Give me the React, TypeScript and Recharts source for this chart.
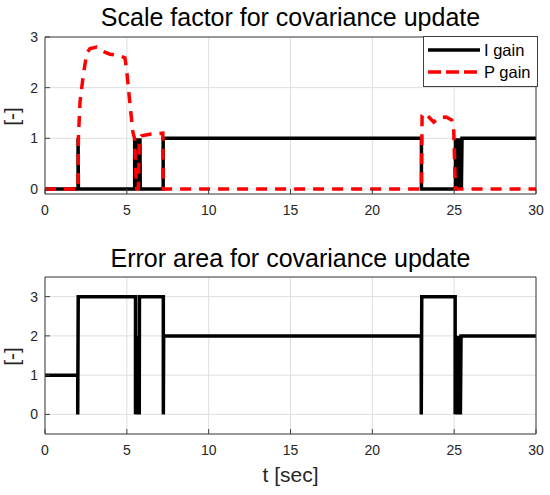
import { LineChart, Line, XAxis, YAxis, CartesianGrid, Legend } from 'recharts';

const FONT = '"Liberation Sans", Arial, Helvetica, sans-serif';
const AXIS = '#404040';
const GRID = '#dedede';

const X_TICKS = [0, 5, 10, 15, 20, 25, 30];
const Y_TICKS = [0, 1, 2, 3];

// top panel: I gain (chatter near 5.5 s and 25.2 s)
const iGainT = [0, 2.02, 2.02, 2.04, 5.48, 5.48, 5.52, 5.56, 5.6, 5.64, 5.68, 5.72, 5.76, 5.8, 5.82, 7.22, 7.22, 23.0, 23.0, 25.08, 25.08, 25.12, 25.16, 25.2, 25.24, 25.28, 25.32, 25.36, 25.4, 25.44, 25.48, 30];
const iGainV = [0, 0, 1, 0, 0, 1, 0, 1, 0, 1, 0, 1, 0, 1, 0, 0, 1, 1, 0, 0, 1, 0, 1, 0, 1, 0, 1, 0, 1, 0, 1, 1];

// top panel: P gain
const pGainT = [0, 2.02, 2.04, 2.14, 2.34, 2.55, 2.75, 3.16, 3.57, 3.97, 4.58, 4.88, 4.97, 5.07, 5.17, 5.27, 5.37, 5.47, 5.55, 5.6, 5.7, 5.76, 5.9, 6.4, 7.2, 7.22, 23.0, 23.04, 23.2, 23.45, 23.75, 24.1, 24.5, 24.85, 24.97, 25.07, 30];
const pGainV = [0, 0, 1.0, 1.72, 2.25, 2.68, 2.77, 2.8, 2.71, 2.66, 2.63, 2.59, 2.4, 2.08, 1.75, 1.43, 1.12, 1.0, 0.3, 0, 0, 1.0, 1.05, 1.08, 1.1, 0, 0, 1.45, 1.5, 1.42, 1.32, 1.41, 1.42, 1.36, 1.22, 0, 0];

// bottom panel: error area
const errT = [0, 2.0, 2.0, 2.03, 5.53, 5.53, 5.57, 5.61, 5.65, 5.69, 5.73, 5.76, 5.77, 7.23, 7.23, 7.25, 22.99, 22.99, 23.02, 25.06, 25.06, 25.1, 25.14, 25.18, 25.22, 25.26, 25.3, 25.34, 25.38, 25.42, 30];
const errV = [1, 1, 0, 3, 3, 0, 2, 0, 2, 0, 2, 0, 3, 3, 0, 2, 2, 0, 3, 3, 0, 2, 0, 2, 0, 2, 0, 2, 0, 2, 2];

const toPoints = (t: number[], v: number[]) => t.map((x, i) => ({ t: x, v: v[i] }));

const iGain = toPoints(iGainT, iGainV);
const pGain = toPoints(pGainT, pGainV);
const errArea = toPoints(errT, errV);

const tickStyle = { fontSize: 14, fill: '#262626', fontFamily: FONT };

function renderLegend(props: any) {
    const items = props.payload || [];
    return (
        <div
            style={{
                width: 113,
                height: 47,
                border: `1px solid ${AXIS}`,
                background: '#fff',
                fontFamily: FONT,
                fontSize: 16.5,
                color: '#000',
                paddingTop: 2,
            }}
        >
            {items.map((entry: any) => (
                <div key={entry.value} style={{ display: 'flex', alignItems: 'center', height: 22 }}>
                    <svg width={56} height={10} style={{ marginLeft: 4 }}>
                        <line
                            x1={0}
                            y1={5}
                            x2={52}
                            y2={5}
                            stroke={entry.color}
                            strokeWidth={3.5}
                            strokeDasharray={entry.payload?.strokeDasharray ? '13 5' : undefined}
                        />
                    </svg>
                    <span>{entry.value}</span>
                </div>
            ))}
        </div>
    );
}

function panelAxes(domain: [number, number]) {
    return [
        <CartesianGrid key="grid" stroke={GRID} />,
        <XAxis
            key="xb"
            type="number"
            dataKey="t"
            domain={[0, 30]}
            ticks={X_TICKS}
            allowDataOverflow
            height={30}
            stroke={AXIS}
            tickSize={-5}
            tickMargin={16}
            tick={tickStyle}
        />,
        <XAxis
            key="xt"
            xAxisId="top"
            orientation="top"
            type="number"
            dataKey="t"
            domain={[0, 30]}
            ticks={X_TICKS}
            allowDataOverflow
            height={1}
            stroke={AXIS}
            tickSize={-5}
            tick={false}
        />,
        <YAxis
            key="yl"
            type="number"
            domain={domain}
            ticks={Y_TICKS}
            allowDataOverflow
            width={40}
            stroke={AXIS}
            tickSize={-5}
            tickMargin={12}
            tick={tickStyle}
        />,
        <YAxis
            key="yr"
            yAxisId="right"
            orientation="right"
            type="number"
            domain={domain}
            ticks={Y_TICKS}
            allowDataOverflow
            width={1}
            stroke={AXIS}
            tickSize={-5}
            tick={false}
        />,
    ];
}

const titleStyle = (top: number) => ({
    position: 'absolute' as const,
    left: 45,
    top,
    width: 491,
    textAlign: 'center' as const,
    fontSize: 25,
    lineHeight: '25px',
    color: '#000',
    whiteSpace: 'nowrap' as const,
});

const yLabelStyle = (cy: number) => ({
    position: 'absolute' as const,
    left: 11 - 20,
    top: cy - 10.5,
    width: 40,
    height: 21,
    lineHeight: '21px',
    textAlign: 'center' as const,
    fontSize: 21,
    color: '#262626',
    transform: 'rotate(-90deg)',
});

export default function App() {
    const margin = { top: 36, right: 13, bottom: 6, left: 5 };
    return (
        <div style={{ position: 'absolute', left: 0, top: 0, width: 550, height: 495, background: '#fff', fontFamily: FONT, overflow: 'hidden' }}>
            <div style={titleStyle(5)}>Scale factor for covariance update</div>
            <div style={{ position: 'absolute', left: 0, top: 0 }}>
                <LineChart width={550} height={230} margin={margin}>
                    {panelAxes([-0.1, 3])}
                    <Line
                        data={iGain}
                        dataKey="v"
                        name="I gain"
                        type="linear"
                        stroke="#000"
                        strokeWidth={3.5}
                        dot={false}
                        isAnimationActive={false}
                    />
                    <Line
                        data={pGain}
                        dataKey="v"
                        name="P gain"
                        type="linear"
                        stroke="#ff0000"
                        strokeWidth={3.5}
                        strokeDasharray="11 8"
                        dot={false}
                        isAnimationActive={false}
                    />
                    <Legend
                        layout="vertical"
                        align="center"
                        verticalAlign="middle"
                        wrapperStyle={{ left: 423, top: 36, width: 115, height: 49 }}
                        content={renderLegend}
                    />
                </LineChart>
            </div>
            <div style={yLabelStyle(116)}>[-]</div>

            <div style={titleStyle(246)}>Error area for covariance update</div>
            <div style={{ position: 'absolute', left: 0, top: 240 }}>
                <LineChart width={550} height={230} margin={margin}>
                    {panelAxes([-0.5, 3.5])}
                    <Line
                        data={errArea}
                        dataKey="v"
                        name="Error area"
                        type="linear"
                        stroke="#000"
                        strokeWidth={3.5}
                        dot={false}
                        isAnimationActive={false}
                    />
                </LineChart>
            </div>
            <div style={yLabelStyle(356)}>[-]</div>
            <div
                style={{
                    position: 'absolute',
                    left: 45,
                    top: 464,
                    width: 491,
                    textAlign: 'center',
                    fontSize: 21,
                    lineHeight: '21px',
                    color: '#262626',
                }}
            >
                t [sec]
            </div>
        </div>
    );
}
